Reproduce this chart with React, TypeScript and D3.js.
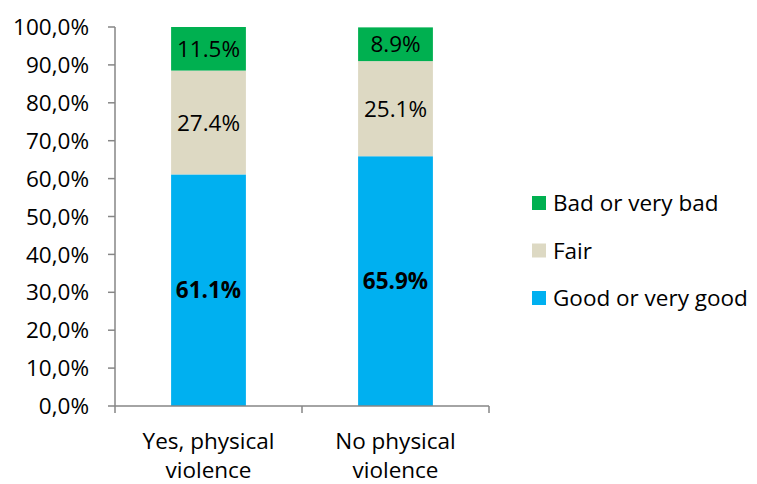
import React from "react";
import * as d3 from "d3";

const categories = ["Yes, physical violence", "No physical violence"];
const categoryLines = [["Yes, physical", "violence"], ["No physical", "violence"]];
const seriesNames = ["Good or very good", "Fair", "Bad or very bad"];
const goodValues = [61.1, 65.9];
const fairValues = [27.4, 25.1];
const badValues = [11.5, 8.9];
const yTicks = [0, 10, 20, 30, 40, 50, 60, 70, 80, 90, 100];

const colors = ["#00B0F0", "#DDD9C3", "#00B050"];
const FONT = "'Open Sans', sans-serif";
const FS = 22.5;

export default function App() {
  const width = 757;
  const height = 484;
  const x0 = 115;
  const x1 = 489;
  const yTop = 27;
  const yBottom = 406;

  const x = d3.scaleBand().domain(categories).range([x0, x1]).paddingInner(0.6).paddingOuter(0.3);
  const y = d3.scaleLinear().domain([0, 100]).range([yBottom, yTop]);

  const rows = categories.map((c, i) => ({
    cat: c,
    [seriesNames[0]]: goodValues[i],
    [seriesNames[1]]: fairValues[i],
    [seriesNames[2]]: badValues[i],
  }));
  const stacked = d3.stack<any>().keys(seriesNames)(rows);

  const bw = x.bandwidth();
  const step = (x1 - x0) / categories.length;

  return (
    <svg width={width} height={height} style={{ position: "absolute", left: 0, top: 0 }} fontFamily={FONT}>
      {/* stacked bars */}
      {stacked.map((layer, si) => (
        <g key={layer.key}>
          {layer.map((d, i) => {
            const top = y(d[1]);
            const bot = y(d[0]);
            return (
              <g key={i}>
                <rect x={x(categories[i])!} y={top} width={bw} height={bot - top} fill={colors[si]} />
                <text
                  x={x(categories[i])! + bw / 2}
                  y={(top + bot) / 2}
                  dy="0.36em"
                  textAnchor="middle"
                  fontSize={FS}
                  fontWeight={si === 0 ? "bold" : "normal"}
                  fill="#000"
                >
                  {(d[1] - d[0]).toFixed(1)}%
                </text>
              </g>
            );
          })}
        </g>
      ))}

      {/* y axis */}
      <line x1={x0} x2={x0} y1={yTop} y2={yBottom} stroke="#868686" strokeWidth={1.5} />
      {yTicks.map((t) => (
        <g key={t}>
          <line x1={x0 - 7} x2={x0} y1={y(t)} y2={y(t)} stroke="#868686" strokeWidth={1.5} />
          <text x={89} y={y(t)} dy="0.36em" textAnchor="end" fontSize={FS} fill="#000">
            {t.toFixed(1).replace(".", ",")}%
          </text>
        </g>
      ))}

      {/* x axis */}
      <line x1={x0} x2={x1} y1={yBottom} y2={yBottom} stroke="#868686" strokeWidth={1.5} />
      {d3.range(categories.length + 1).map((k) => (
        <line key={k} x1={x0 + k * step} x2={x0 + k * step} y1={yBottom} y2={yBottom + 7} stroke="#868686" strokeWidth={1.5} />
      ))}
      {categories.map((c, i) => (
        <text key={c} x={x(c)! + bw / 2} y={449} textAnchor="middle" fontSize={FS} fill="#000">
          {categoryLines[i].map((ln, j) => (
            <tspan key={j} x={x(c)! + bw / 2} dy={j === 0 ? 0 : 29}>
              {ln}
            </tspan>
          ))}
        </text>
      ))}

      {/* legend */}
      {[2, 1, 0].map((si, r) => {
        const cy = 203 + r * 47.5;
        return (
          <g key={si}>
            <rect x={532} y={cy - 7} width={14} height={14} fill={colors[si]} />
            <text x={553} y={cy} dy="0.36em" fontSize={FS} fill="#000">
              {seriesNames[si]}
            </text>
          </g>
        );
      })}
    </svg>
  );
}
